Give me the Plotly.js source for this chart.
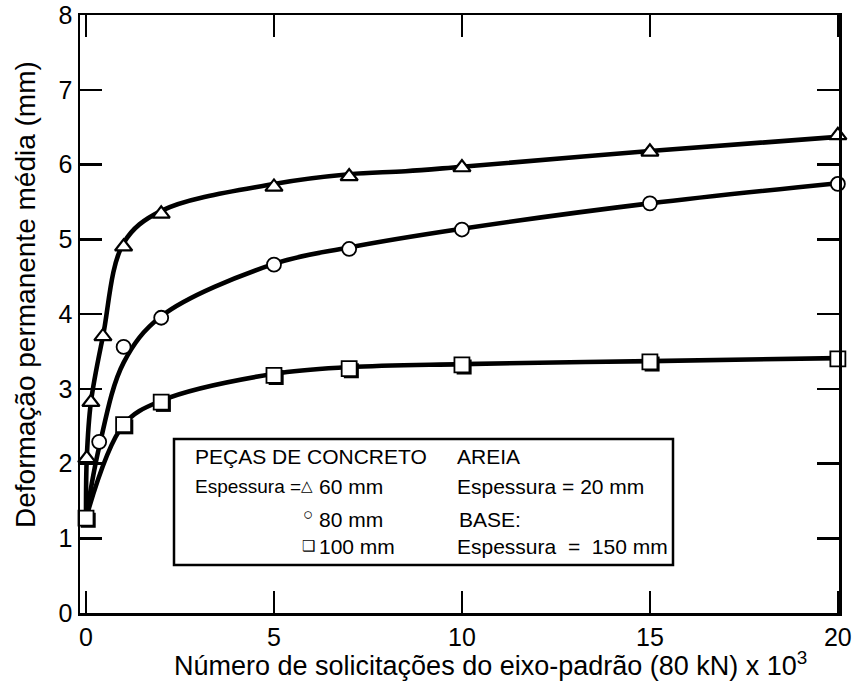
<!DOCTYPE html>
<html>
<head>
<meta charset="utf-8">
<script src="https://cdn.plot.ly/plotly-3.0.1.min.js"></script>
<style>html,body{margin:0;padding:0;background:#fff;}#chart{width:859px;height:686px;}</style>
</head>
<body>
<div id="chart"></div>
<script>
// ---- Data (x in thousands of load repetitions, y in mm) ----
const triX = [0.02, 0.13, 0.45, 1, 2, 5, 7, 10, 15, 20];
const triY = [2.07, 2.82, 3.70, 4.90, 5.34, 5.70, 5.84, 5.96, 6.17, 6.39];
const circX = [0.35, 1, 2, 5, 7, 10, 15, 20];
const circY = [2.29, 3.56, 3.95, 4.66, 4.87, 5.13, 5.48, 5.74];
const sqX = [0, 1, 2, 5, 7, 10, 15, 20];
const sqY = [1.27, 2.52, 2.82, 3.18, 3.27, 3.32, 3.36, 3.40];

// fitted curves drawn through the points
const triCurveX = [0, 0.02, 0.13, 0.45, 1, 2, 5, 7, 8.5, 10, 15, 20];
const triCurveY = [1.27, 2.07, 2.82, 3.70, 4.95, 5.38, 5.74, 5.87, 5.91, 5.97, 6.18, 6.37];
const circCurveX = [0, 0.35, 1, 2, 5, 7, 10, 15, 20];
const circCurveY = [1.27, 2.22, 3.35, 3.97, 4.67, 4.89, 5.14, 5.48, 5.75];
const sqCurveX = [0, 1, 2, 5, 7, 10, 15, 20];
const sqCurveY = [1.27, 2.52, 2.84, 3.20, 3.29, 3.33, 3.37, 3.41];

const xTicks = [0, 5, 10, 15, 20];
const yTicks = [0, 1, 2, 3, 4, 5, 6, 7, 8];

const xTitle = 'Número de solicitações do eixo-padrão (80 kN) x 10<sup>3</sup>';
const yTitle = 'Deformação permanente média (mm)';

// ---- Layout geometry ----
const W = 859, H = 686;
const M = {l: 80, r: 20, t: 15, b: 73};
const xRange = [-0.16, 20.03];
const yRange = [0, 8];
const pw = W - M.l - M.r, ph = H - M.t - M.b;
const dxPerPx = (xRange[1] - xRange[0]) / pw;
const dyPerPx = (yRange[1] - yRange[0]) / ph;
const px2px = p => (p - M.l) / pw;        // paper x
const px2py = p => (H - M.b - p) / ph;    // paper y
const shadowShift = 2.2;

const FONT = 'Liberation Sans, Arial, Helvetica, sans-serif';
const lineStyle = {color: '#000', width: 4.6, shape: 'spline', smoothing: 1};

const traces = [
  {x: triCurveX, y: triCurveY, mode: 'lines', line: lineStyle},
  {x: circCurveX, y: circCurveY, mode: 'lines', line: lineStyle},
  {x: sqCurveX, y: sqCurveY, mode: 'lines', line: lineStyle},
  // shadow of square markers
  {x: sqX, y: sqY, mode: 'markers', xaxis: 'x2', yaxis: 'y2',
   marker: {symbol: 'square', size: 15, color: '#000', line: {width: 0}}},
  {x: triX, y: triY, mode: 'markers', xaxis: 'x3', yaxis: 'y3',
   marker: {symbol: 'triangle-up', size: 15, color: '#fff', line: {color: '#000', width: 2.2}}},
  {x: circX, y: circY, mode: 'markers', xaxis: 'x3', yaxis: 'y3',
   marker: {symbol: 'circle', size: 14, color: '#fff', line: {color: '#000', width: 1.8}}},
  {x: sqX, y: sqY, mode: 'markers', xaxis: 'x3', yaxis: 'y3',
   marker: {symbol: 'square', size: 15, color: '#fff', line: {color: '#000', width: 1.8}}}
];
traces.forEach(t => { t.cliponaxis = false; t.hoverinfo = 'skip'; });

function ann(text, xp, yp, size, anchor) {
  return {text: text, x: px2px(xp), y: px2py(yp), xref: 'paper', yref: 'paper',
    xanchor: anchor || 'left', yanchor: 'middle', showarrow: false,
    font: {family: FONT, size: size || 20, color: '#000'}};
}

const annotations = [
  ann('PEÇAS DE CONCRETO', 193, 456, 21),
  ann('AREIA', 455, 456, 21),
  ann('Espessura =', 193, 486, 19),
  ann('△', 307, 485, 15, 'center'),
  ann('60 mm', 317, 486, 21),
  ann('Espessura = 20 mm', 455, 486, 21),
  ann('○', 308, 514, 17, 'center'),
  ann('80 mm', 317, 519, 21),
  ann('BASE:', 457, 519, 21),
  ann('❑', 308, 545, 15, 'center'),
  ann('100 mm', 317, 546, 21),
  ann('Espessura  =  150 mm', 455, 546, 21),
  // axis titles
  {text: xTitle, x: px2px(490), y: px2py(664), xref: 'paper', yref: 'paper',
   xanchor: 'center', yanchor: 'middle', showarrow: false,
   font: {family: FONT, size: 27, color: '#000'}},
  {text: yTitle, x: px2px(25), y: px2py(295), xref: 'paper', yref: 'paper',
   xanchor: 'center', yanchor: 'middle', showarrow: false, textangle: -90,
   font: {family: FONT, size: 28, color: '#000'}}
];

const shapes = [
  {type: 'rect', xref: 'paper', yref: 'paper', x0: px2px(174), x1: px2px(673), y0: px2py(439), y1: px2py(565),
   line: {color: '#000', width: 2.5}, fillcolor: 'rgba(0,0,0,0)'}
];

const axisCommon = {
  showgrid: false, zeroline: false, showline: true, linecolor: '#000', linewidth: 2.5,
  mirror: 'ticks', ticks: 'inside', ticklen: 22, tickwidth: 2.5, tickcolor: '#000',
  tickfont: {family: FONT, size: 25, color: '#000'}, fixedrange: true, automargin: false
};

const layout = {
  width: W, height: H,
  margin: M,
  paper_bgcolor: '#fff', plot_bgcolor: '#fff',
  showlegend: false,
  font: {family: FONT, color: '#000'},
  xaxis: Object.assign({}, axisCommon, {
    range: xRange, tickvals: xTicks, ticktext: xTicks.map(String)
  }),
  yaxis: Object.assign({}, axisCommon, {
    range: yRange, tickvals: yTicks, ticktext: yTicks.map(String)
  }),
  xaxis2: {overlaying: 'x', range: [xRange[0] - shadowShift * dxPerPx, xRange[1] - shadowShift * dxPerPx],
           visible: false, fixedrange: true},
  yaxis2: {overlaying: 'y', range: [yRange[0] + shadowShift * dyPerPx, yRange[1] + shadowShift * dyPerPx],
           visible: false, fixedrange: true},
  xaxis3: {overlaying: 'x', range: xRange, visible: false, fixedrange: true},
  yaxis3: {overlaying: 'y', range: yRange, visible: false, fixedrange: true},
  annotations: annotations,
  shapes: shapes
};

Plotly.newPlot('chart', traces, layout, {staticPlot: true, displayModeBar: false});
</script>
</body>
</html>
